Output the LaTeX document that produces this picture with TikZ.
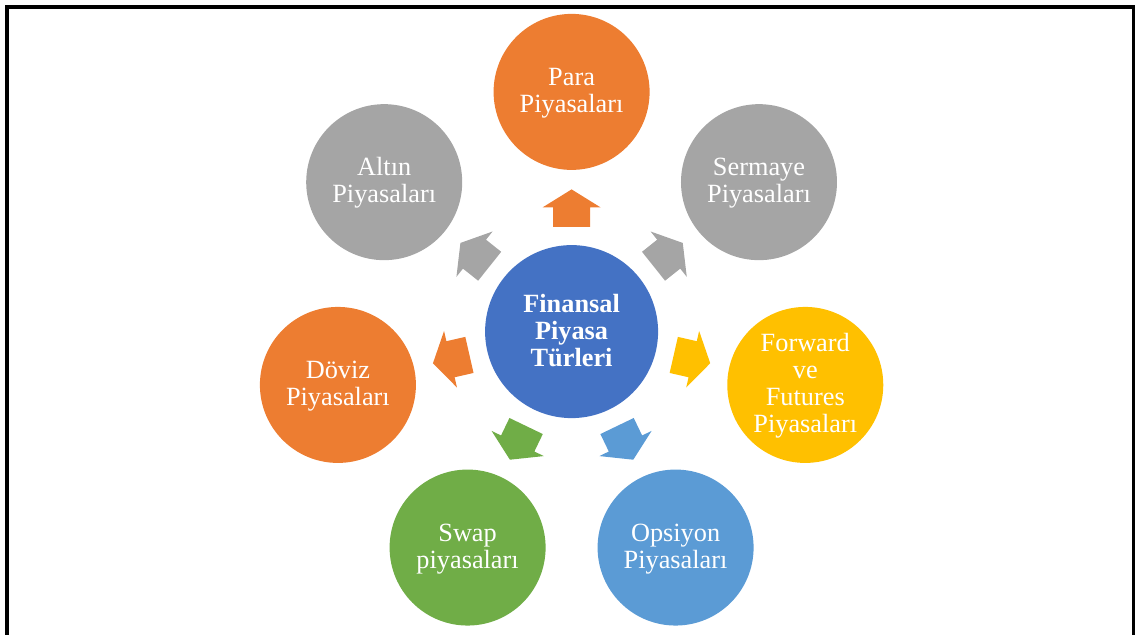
\documentclass[tikz,border=0pt]{standalone}
\usepackage{fontspec}
\setmainfont{Liberation Serif}
\definecolor{cOrange}{HTML}{ED7D31}
\definecolor{cGray}{HTML}{A5A5A5}
\definecolor{cBlue}{HTML}{4472C4}
\definecolor{cYellow}{HTML}{FFC000}
\definecolor{cSky}{HTML}{5B9BD5}
\definecolor{cGreen}{HTML}{70AD47}
% uniform line box for every label line (height 20pt, depth 4pt)
\newcommand\lstrut{\rule[-4pt]{0pt}{24pt}}
\tikzset{
  bubble/.style={circle, fill=#1, minimum size=156pt, inner sep=0pt,
    text=white, align=center, font=\fontsize{26.3}{27.2}\selectfont},
  hubnode/.style={circle, fill=cBlue, minimum size=173pt, inner sep=0pt,
    text=white, align=center, font=\fontsize{26.3}{27.2}\selectfont\bfseries},
  spoke/.style={fill=#1},
  frame/.style={fill=black},
}
\begin{document}
\begin{tikzpicture}[x=1pt,y=1pt]
\useasboundingbox (-571.6,-303.4) rectangle (564.4,331.6);
% page frame: heavy top and left rules, thin right rule
\fill[frame] (-566.6,326.6) rectangle (563.4,322.6);
\fill[frame] (-566.6,326.6) rectangle (-562.6,-303.4);
\fill[frame] (560.7,326.6) rectangle (563.4,-303.4);

% hub
\node[hubnode] (hub) at (0,0) {\lstrut Finansal\\\lstrut Piyasa\\\lstrut Türleri};

% surrounding market types
\node[bubble=cOrange] (para)    at (90:239.7)       {\lstrut Para\\\lstrut Piyasaları};
\node[bubble=cGray]   (sermaye) at (38.5714:239.7)  {\lstrut Sermaye\\\lstrut Piyasaları};
\node[bubble=cYellow] (forward) at (-12.857:239.7)  {\lstrut Forward\\\lstrut ve\\\lstrut Futures\\\lstrut Piyasaları};
\node[bubble=cSky]    (opsiyon) at (-64.286:239.7)  {\lstrut Opsiyon\\\lstrut Piyasaları};
\node[bubble=cGreen]  (swap)    at (-115.714:239.7) {\lstrut Swap\\\lstrut piyasaları};
\node[bubble=cOrange] (doviz)   at (-167.143:239.7) {\lstrut Döviz\\\lstrut Piyasaları};
\node[bubble=cGray]   (altin)   at (141.429:239.7)  {\lstrut Altın\\\lstrut Piyasaları};

% block arrows diverging from the hub
\foreach \ang/\col in {90/cOrange, 38.5714/cGray, -12.857/cYellow, -64.286/cSky,
                       -115.714/cGreen, -167.143/cOrange, 141.429/cGray}{
  \begin{scope}[shift={(hub.center)}, rotate=\ang]
    \fill[spoke=\col] (104.8,-18.5) -- (124.2,-18.5) -- (124.2,-29) -- (142.2,0)
      -- (124.2,29) -- (124.2,18.5) -- (104.8,18.5) -- cycle;
  \end{scope}
}
\end{tikzpicture}
\end{document}
